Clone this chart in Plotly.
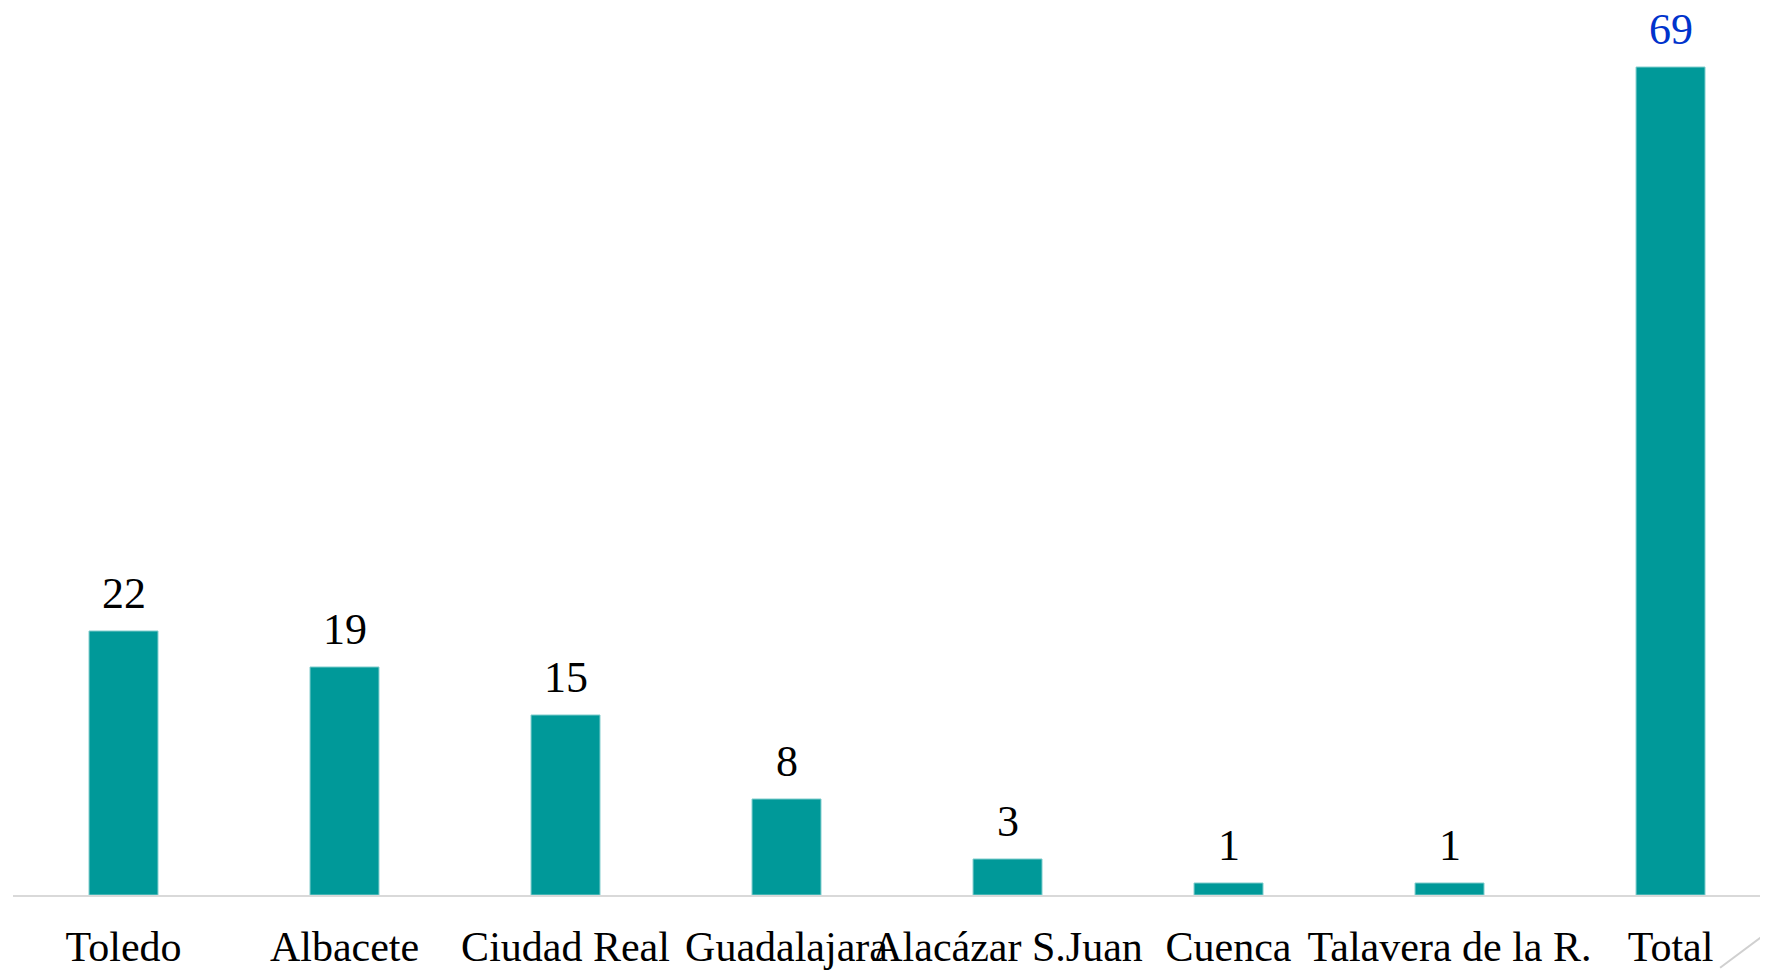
import plotly.graph_objects as go

# datos
localidades = ['Toledo', 'Albacete', 'Ciudad Real', 'Guadalajara', 'Alacázar S.Juan',
               'Cuenca', 'Talavera de la R.', 'Total']
casos = [22, 19, 15, 8, 3, 1, 1, 69]
label_colors = ['black'] * 7 + ['#0033CC']

fig = go.Figure()
fig.add_trace(go.Bar(x=localidades, y=casos, width=0.312,
                     marker=dict(color='#009999', line=dict(color='#7fcccc', width=1)),
                     hoverinfo='x+y'))

for loc, v, c in zip(localidades, casos, label_colors):
    fig.add_annotation(x=loc, y=v, text=str(v), showarrow=False,
                       yanchor='bottom', yshift=11,
                       font=dict(family='Liberation Serif, Times New Roman, serif', size=44, color=c))

# linea decorativa esquina inferior derecha
fig.add_shape(type='line', xref='paper', yref='paper',
              x0=0.9727, y0=-0.082, x1=1.0, y1=-0.0416,
              line=dict(color='#d0d0d0', width=2))

# la pagina deja unos px de margen en el body
fig.update_layout(
    width=1760, height=962,
    margin=dict(l=5, r=0, t=0, b=72),
    paper_bgcolor='white', plot_bgcolor='white',
    showlegend=False,
    font=dict(family='Liberation Serif, Times New Roman, serif', color='black'),
)
fig.update_xaxes(range=[-0.5, 7.441], tickangle=0, showgrid=False,
                 showline=True, linecolor='#d9d9d9', linewidth=2,
                 ticks='outside', ticklen=14, tickcolor='rgba(0,0,0,0)',
                 tickfont=dict(size=42, color='black'))
fig.update_yaxes(range=[0, 73.92], visible=False, showgrid=False, zeroline=False)

fig.write_html("out.html")
